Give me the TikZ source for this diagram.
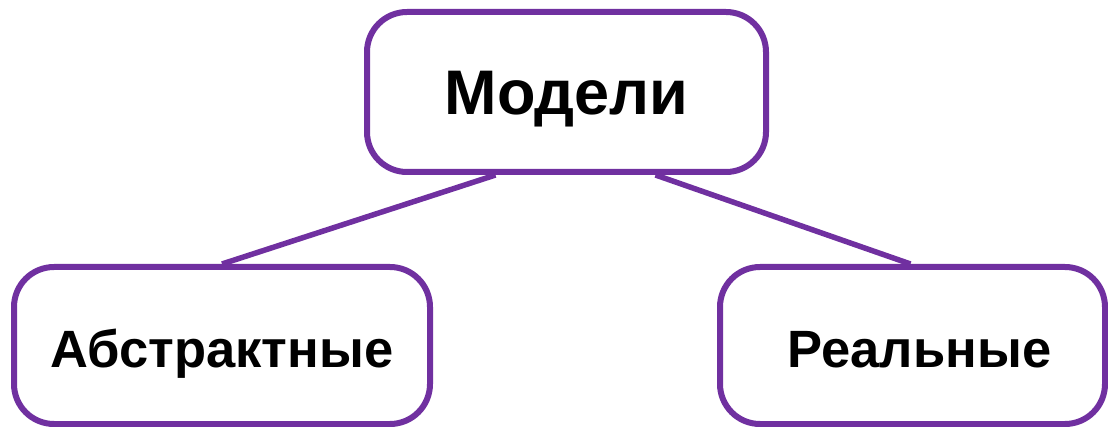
\documentclass[tikz,border=0pt]{standalone}
\usepackage{fontspec}
\setmainfont{Liberation Sans}
\definecolor{frame}{HTML}{7030A0}
\begin{document}
\begin{tikzpicture}[x=1pt,y=-1pt,
  box/.style={draw=frame, line width=6pt, rounded corners=40pt, fill=white,
    inner sep=0pt, text depth=0pt},
  link/.style={draw=frame, line width=5.5pt}]
\useasboundingbox (0,0) rectangle (1108,427);
% top node
\node[box, minimum width=399pt, minimum height=160pt, text height=46pt,
  font=\fontsize{63}{70}\selectfont\bfseries]
  (top) at (566.5,92) {Модели};
% bottom nodes
\node[box, minimum width=416pt, minimum height=157pt, text height=43pt,
  font=\fontsize{52.5}{60}\selectfont\bfseries]
  (abs) at (222,345.5) {Абстрактные};
\node[box, minimum width=385pt, minimum height=157pt, text height=43pt,
  font=\fontsize{52.5}{60}\selectfont\bfseries]
  (real) at (912.5,345.5) {\hspace*{14pt}Реальные};
% connectors
\draw[link] ([xshift=-71pt]top.south) -- (abs.north);
\draw[link] ([xshift=89pt]top.south) -- ([xshift=-2pt]real.north);
\end{tikzpicture}
\end{document}
